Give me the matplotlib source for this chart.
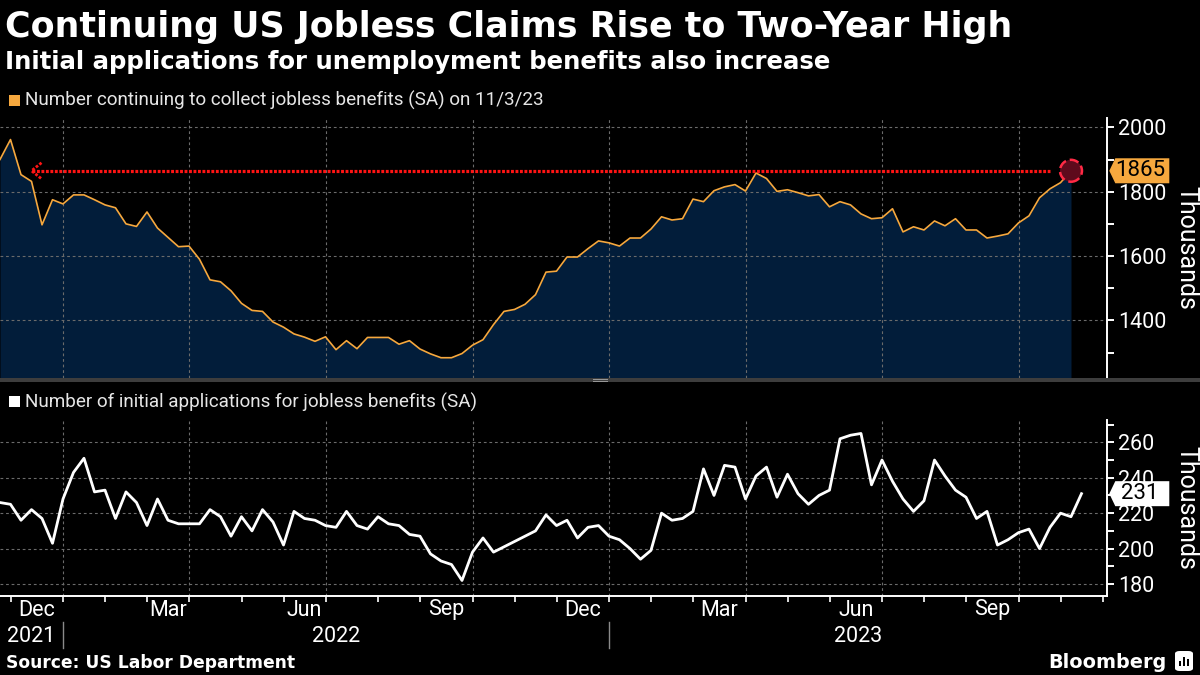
import numpy as np
import pandas as pd
import matplotlib
matplotlib.use("Agg")
import matplotlib.pyplot as plt
import matplotlib.dates as mdates
from matplotlib.patches import Polygon, Rectangle, FancyBboxPatch
from matplotlib.lines import Line2D
from matplotlib.transforms import Affine2D

# ---------------- data ----------------
first_week = "2021-11-20"
continuing = [1900, 1962, 1853, 1832, 1697, 1775, 1762, 1790, 1790, 1775,
              1759, 1750, 1700, 1692, 1737, 1687, 1658, 1629, 1631, 1590,
              1526, 1520, 1492, 1453, 1431, 1428, 1395, 1379, 1358, 1348,
              1335, 1349, 1309, 1337, 1312, 1347, 1347, 1347, 1326, 1337,
              1311, 1296, 1284, 1284, 1297, 1323, 1340, 1387, 1428, 1434,
              1450, 1480, 1550, 1553, 1597, 1597, 1623, 1647, 1641, 1631,
              1656, 1656, 1684, 1722, 1712, 1716, 1777, 1769, 1803, 1815,
              1822, 1802, 1858, 1841, 1801, 1806, 1797, 1787, 1791, 1753,
              1769, 1759, 1731, 1716, 1719, 1747, 1675, 1691, 1681, 1709,
              1694, 1716, 1681, 1681, 1656, 1662, 1669, 1703, 1725, 1781,
              1809, 1828, 1865]
initial = [226, 225, 216, 222, 217, 203, 228, 243, 251, 232,
           233, 217, 232, 226, 213, 228, 216, 214, 214, 214,
           222, 218, 207, 218, 210, 222, 215, 202, 221, 217,
           216, 213, 212, 221, 213, 211, 218, 214, 213, 208,
           207, 197, 193, 191, 182, 198, 206, 198, 201, 204,
           207, 210, 219, 213, 216, 206, 212, 213, 207, 205,
           200, 194, 199, 220, 216, 217, 221, 245, 230, 247,
           246, 228, 241, 246, 229, 242, 231, 225, 230, 233,
           262, 264, 265, 236, 250, 238, 228, 221, 227, 250,
           241, 233, 229, 217, 221, 202, 205, 209, 211, 200,
           212, 220, 218, 231]
month_names = {12: "Dec", 3: "Mar", 6: "Jun", 9: "Sep"}
top_major = [1400, 1600, 1800, 2000]
top_minor = [1300, 1500, 1700, 1900]
bot_major = [180, 200, 220, 240, 260]
bot_minor = [190, 210, 230, 250, 270]
highlight_level = 1865
arrow_from, arrow_to = "2021-12-11", "2023-10-21"

title = "Continuing US Jobless Claims Rise to Two-Year High"
subtitle = "Initial applications for unemployment benefits also increase"
legend_top = "Number continuing to collect jobless benefits (SA) on 11/3/23"
legend_bot = "Number of initial applications for jobless benefits (SA)"
source = "Source: US Labor Department"

week_dates = pd.date_range(first_week, periods=len(initial), freq="7D")
cont_dates = week_dates[:len(continuing)]

# ---------------- styling ----------------
ORANGE = "#f6a83e"
FILL = "#021d3a"
GRID = "#6b6b6b"
TXT = "#e6e6e6"
RED = "#ff1414"
TICKFONT = "Roboto"
DOTS = (0, (0.9, 0.5))

W, H = 1200, 675
fig = plt.figure(figsize=(W / 100, H / 100), dpi=100, facecolor="black")


def fbox(l, t, r, b):
    return [l / W, 1 - b / H, (r - l) / W, (b - t) / H]


ax1 = fig.add_axes(fbox(0, 118, 1107.3, 378))
ax2 = fig.add_axes(fbox(0, 420, 1107.3, 595.7))

x0 = mdates.date2num(pd.Timestamp(first_week))
xlim = (x0, x0 + 738.2)

for ax in (ax1, ax2):
    ax.set_facecolor("black")
    ax.set_xlim(*xlim)
    ax.yaxis.tick_right()
    for s in ("left", "top"):
        ax.spines[s].set_visible(False)
    ax.spines["right"].set_color("white")
    ax.spines["right"].set_linewidth(1.4)
    ax.tick_params(axis="y", which="both", direction="out", length=5, width=1.4,
                   colors="white", labelsize=15.5, pad=3)
    ax.tick_params(axis="y", which="minor", labelright=False)
    ax.yaxis.grid(True, which="major", color=GRID, lw=0.8, ls=(0, (2.5, 2.5)))

ax1.spines["bottom"].set_visible(False)
ax1.set_xticks([])
ax2.spines["bottom"].set_color("white")
ax2.spines["bottom"].set_linewidth(1.4)

# top panel
ax1.fill_between(cont_dates, continuing, 0, color=FILL, lw=0, zorder=1)
ax1.plot(cont_dates, continuing, color=ORANGE, lw=1.2, zorder=3)
ax1.set_ylim(1221, 2029)
ax1.set_yticks(top_major)
ax1.set_yticks(top_minor, minor=True)
ax1.set_yticklabels([str(v) for v in top_major], fontfamily=TICKFONT, color="white")

# bottom panel
ax2.plot(week_dates, initial, color="white", lw=2, zorder=3)
ax2.set_ylim(173.4, 272.6)
ax2.set_yticks(bot_major)
ax2.set_yticks(bot_minor, minor=True)
ax2.set_yticklabels([str(v) for v in bot_major], fontfamily=TICKFONT, color="white")

# month ticks: located at the last weekly point on or before the 1st of the month
grid_weeks = pd.date_range(first_week, "2024-01-31", freq="7D")
months = pd.date_range("2021-12-01", "2024-01-01", freq="MS")
tick_pos = {}
for m in months:
    tick_pos[m] = mdates.date2num(grid_weeks[grid_weeks <= m][-1])
vis_ticks = [v for v in tick_pos.values() if v <= xlim[1]]
ax2.set_xticks(vis_ticks)
ax2.set_xticklabels([])
ax2.tick_params(axis="x", direction="out", length=4, width=1.2, colors="white")

# quarterly vertical gridlines
for m, v in tick_pos.items():
    if m.month in (1, 4, 7, 10) and v <= xlim[1]:
        for ax in (ax1, ax2):
            ax.axvline(v, color=GRID, lw=0.8, ls=(0, (2.5, 2.5)), zorder=1.5)

# month labels centred in their month
mlist = list(tick_pos.keys())
trans = ax2.get_xaxis_transform()
ax_h = 595.7 - 420
for k, m in enumerate(mlist[:-1]):
    if m.month in month_names and tick_pos[mlist[k + 1]] <= xlim[1]:
        c = 0.5 * (tick_pos[m] + tick_pos[mlist[k + 1]])
        ax2.text(c, (595.7 - 610) / ax_h, month_names[m.month], transform=trans,
                 ha="center", va="center", color="white", fontsize=15.5,
                 fontfamily=TICKFONT, clip_on=False)

# year labels and separators
jan22 = tick_pos[pd.Timestamp("2022-01-01")]
jan23 = tick_pos[pd.Timestamp("2023-01-01")]
bounds = [xlim[0], jan22, jan23, xlim[1]]
for yr, a, b in zip(["2021", "2022", "2023"], bounds[:-1], bounds[1:]):
    ax2.text(0.5 * (a + b), (595.7 - 636) / ax_h, yr, transform=trans,
             ha="center", va="center", color="white", fontsize=15.5,
             fontfamily=TICKFONT, clip_on=False)
for v in (jan22, jan23):
    ax2.add_line(Line2D([v, v], [(595.7 - 622) / ax_h, (595.7 - 648) / ax_h],
                        transform=trans, color="#8a8a8a", lw=1, clip_on=False))

# "Thousands" axis labels
for ax, (t, b) in ((ax1, (118, 378)), (ax2, (420, 595.7))):
    fig.text(1186 / W, 1 - 0.5 * (t + b) / H, "Thousands", rotation=-90,
             ha="center", va="center", color="white", fontsize=18,
             fontfamily=TICKFONT)

# highlight: dotted line with dotted chevron and circle at the latest value
xa = mdates.date2num(pd.Timestamp(arrow_from))
xb = mdates.date2num(pd.Timestamp(arrow_to))
ax1.plot([xa, xb], [highlight_level, highlight_level], color=RED, lw=2.3,
         ls=DOTS, zorder=4, solid_capstyle="butt", dash_capstyle="butt")
fig.canvas.draw()
tip = ax1.transData.transform((xa, highlight_level))
chev = Line2D([10, 0, 10], [8, 0, -8], color=RED, lw=2.0, ls=(0, (1.0, 0.6)),
              transform=Affine2D().translate(tip[0], tip[1]), zorder=4)
fig.add_artist(chev)
ax1.scatter([cont_dates[-1]], [continuing[-1]], s=250, facecolor="#5e0a1c",
            edgecolor="#ff2a45", linewidths=1.8, linestyle="--", zorder=5)


# value tags
def value_tag(ax, yval, text, fc):
    yc = ax.transData.transform((xlim[1], yval))[1]
    xr = ax.get_position().x1 * W
    tipx, l, r, hh = xr + 2, xr + 8, xr + 62, 12.5
    pts = [(tipx, yc), (l, yc + hh), (r, yc + hh), (r, yc - hh), (l, yc - hh)]
    fig.patches.append(Polygon([(px / W, py / H) for px, py in pts], closed=True,
                               transform=fig.transFigure, fc=fc, ec="none",
                               zorder=10))
    fig.text((l + r) / 2 / W - 0.002, yc / H, text, ha="center", va="center",
             fontsize=16, color="black", fontfamily=TICKFONT, zorder=11)


value_tag(ax1, continuing[-1], str(continuing[-1]), ORANGE)
value_tag(ax2, initial[-1], str(initial[-1]), "white")

# panel separator
fig.patches.append(Rectangle((0, 1 - 382 / H), 1, 4 / H, transform=fig.transFigure,
                             fc="#3d3d3d", ec="none"))
for yy in (379.3, 380.8):
    fig.add_artist(Line2D([593 / W, 607 / W], [1 - yy / H, 1 - yy / H],
                          transform=fig.transFigure, color="#9a9a9a", lw=0.7))

# texts
renderer = fig.canvas.get_renderer()


def fit_text(x, y, s, width, **kw):
    t = fig.text(x / W, 1 - y / H, s, fontsize=20, va="baseline", **kw)
    w = t.get_window_extent(renderer).width
    t.set_fontsize(20 * width / w)
    return t


fit_text(5, 37, title, 1008, color="white", fontweight="bold",
         fontfamily="DejaVu Sans")
fit_text(5, 69, subtitle, 831, color="white", fontweight="bold",
         fontfamily="DejaVu Sans")
fit_text(25, 106, legend_top, 520, color=TXT, fontfamily=TICKFONT)
fit_text(25, 408, legend_bot, 452, color=TXT, fontfamily=TICKFONT)
fit_text(6, 668, source, 289, color="white", fontweight="bold",
         fontfamily="DejaVu Sans")
fit_text(1048, 668, "Bloomberg", 118, color="white", fontweight="bold",
         fontfamily="DejaVu Sans")

# legend squares
fig.patches.append(Rectangle((9 / W, 1 - 106 / H), 11 / W, 11 / H,
                             transform=fig.transFigure, fc=ORANGE, ec="none"))
fig.patches.append(Rectangle((9 / W, 1 - 407 / H), 11 / W, 11 / H,
                             transform=fig.transFigure, fc="white", ec="none"))

# Bloomberg logo mark
fig.patches.append(FancyBboxPatch((1175 / W, 1 - 671 / H), 18 / W, 20 / H,
                                  boxstyle="round,pad=0,rounding_size=0.004",
                                  transform=fig.transFigure, fc="white", ec="none"))
for i, hgt in enumerate([5, 9, 7]):
    fig.patches.append(Rectangle(((1179 + i * 4) / W, 1 - 666 / H), 2.2 / W, hgt / H,
                                 transform=fig.transFigure, fc="black", ec="none"))

fig.savefig("out.png", dpi=100, facecolor="black")
